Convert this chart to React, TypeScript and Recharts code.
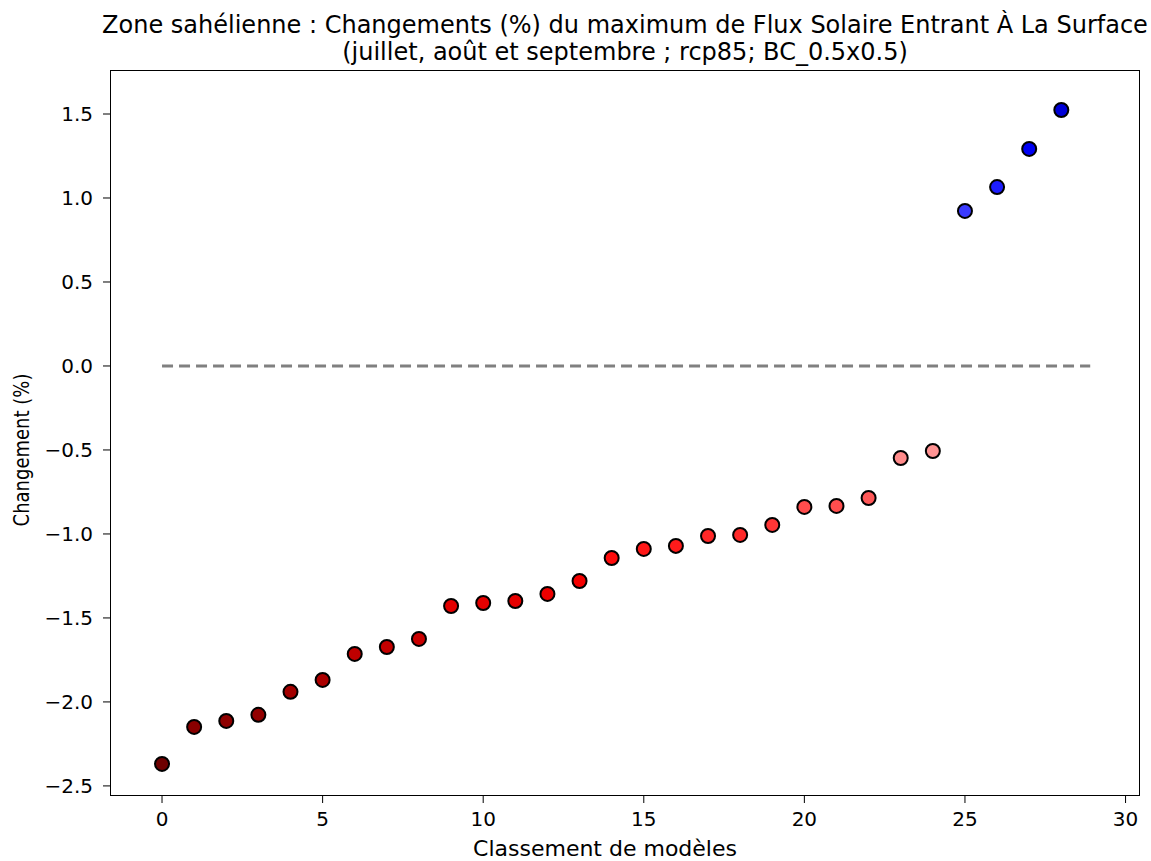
import React from "react";
import {
  ScatterChart,
  Scatter,
  XAxis,
  YAxis,
  ReferenceLine,
  Cell,
} from "recharts";

const RANKS = [
  0, 1, 2, 3, 4, 5, 6, 7, 8, 9, 10, 11, 12, 13, 14, 15, 16, 17, 18, 19, 20,
  21, 22, 23, 24, 25, 26, 27, 28,
];

const CHANGES = [
  -2.369, -2.149, -2.113, -2.077, -1.94, -1.869, -1.714, -1.673, -1.625,
  -1.429, -1.411, -1.399, -1.357, -1.28, -1.143, -1.089, -1.071, -1.012,
  -1.006, -0.946, -0.839, -0.833, -0.786, -0.548, -0.506, 0.923, 1.065, 1.292,
  1.524,
];

const X_TICKS = [0, 5, 10, 15, 20, 25, 30];
const Y_TICKS = [-2.5, -2.0, -1.5, -1.0, -0.5, 0.0, 0.5, 1.0, 1.5];

const TITLE_1 =
  "Zone sahélienne : Changements (%) du maximum de Flux Solaire Entrant À La Surface";
const TITLE_2 = "(juillet, août et septembre ; rcp85; BC_0.5x0.5)";

const FONT = "'DejaVu Sans', sans-serif";

// diverging red/blue colour, like a reversed seismic map
const colorFor = (v: number) => {
  const a = Math.abs(v);
  let main = 255;
  let other = 0;
  if (a <= 1.2) {
    other = Math.round(255 * (1 - a / 1.2));
  } else {
    main = Math.round(255 - (a - 1.2) * 124);
  }
  const hex = (n: number) => n.toString(16).padStart(2, "0");
  return v < 0
    ? `#${hex(main)}${hex(other)}${hex(other)}`
    : `#${hex(other)}${hex(other)}${hex(main)}`;
};

const data = RANKS.map((rank, i) => ({ rank, change: CHANGES[i] }));

const W = 1151;
const H = 861;
const PLOT = { left: 110, top: 70, right: 1140, bottom: 796 };

const tickStyle = { fill: "#000", fontSize: 20, fontFamily: FONT };

export default function App() {
  return (
    <div
      style={{
        position: "absolute",
        left: 0,
        top: 0,
        width: W,
        height: H,
        background: "#fff",
        fontFamily: FONT,
      }}
    >
      <ScatterChart
        width={W}
        height={H}
        margin={{ top: PLOT.top, right: W - PLOT.right, bottom: 0, left: 0 }}
      >
        <XAxis
          type="number"
          dataKey="rank"
          domain={[-1.62, 30.45]}
          ticks={X_TICKS}
          allowDataOverflow
          height={H - PLOT.bottom}
          tick={tickStyle}
          tickSize={7}
          tickMargin={9}
          stroke="#000"
          axisLine={false}
        />
        <YAxis
          type="number"
          dataKey="change"
          domain={[-2.56, 1.762]}
          ticks={Y_TICKS}
          allowDataOverflow
          width={PLOT.left}
          tick={tickStyle}
          tickFormatter={(v: number) =>
            v < 0 ? `\u2212${Math.abs(v).toFixed(1)}` : v.toFixed(1)
          }
          tickSize={7}
          tickMargin={10}
          stroke="#000"
          axisLine={false}
        />
        <ReferenceLine
          segment={[
            { x: 0, y: 0 },
            { x: 28.9, y: 0 },
          ]}
          stroke="#808080"
          strokeWidth={3}
          strokeDasharray="11 6"
        />
        <Scatter
          data={data}
          isAnimationActive={false}
          shape={(p: any) => (
            <circle
              cx={p.cx}
              cy={p.cy}
              r={7}
              fill={p.fill}
              stroke="#000"
              strokeWidth={2}
            />
          )}
        >
          {data.map((d) => (
            <Cell key={d.rank} fill={colorFor(d.change)} />
          ))}
        </Scatter>
      </ScatterChart>

      <div
        style={{
          position: "absolute",
          left: PLOT.left,
          top: PLOT.top,
          width: PLOT.right - PLOT.left,
          height: PLOT.bottom - PLOT.top,
          border: "1.5px solid #000",
          boxSizing: "border-box",
          pointerEvents: "none",
        }}
      />

      <div
        style={{
          position: "absolute",
          left: PLOT.left - 60,
          width: PLOT.right - PLOT.left + 120,
          top: 12,
          textAlign: "center",
          fontSize: 24,
          lineHeight: "27px",
          whiteSpace: "nowrap",
          color: "#000",
        }}
      >
        <div>{TITLE_1}</div>
        <div>{TITLE_2}</div>
      </div>

      <div
        style={{
          position: "absolute",
          left: PLOT.left - 20,
          width: PLOT.right - PLOT.left,
          top: 837,
          textAlign: "center",
          fontSize: 22,
          lineHeight: "24px",
          color: "#000",
        }}
      >
        Classement de modèles
      </div>

      <div
        style={{
          position: "absolute",
          left: 22,
          top: 450,
          transform: "translate(-50%, -50%) rotate(-90deg) scaleY(1.2)",
          fontSize: 18,
          lineHeight: "22px",
          whiteSpace: "nowrap",
          color: "#000",
        }}
      >
        Changement (%)
      </div>
    </div>
  );
}
